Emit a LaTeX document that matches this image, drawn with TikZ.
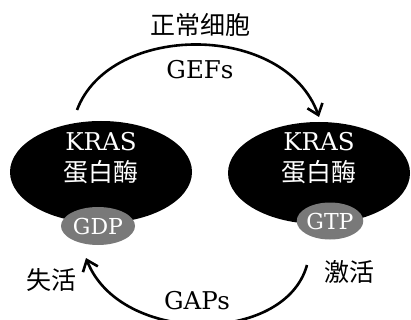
\documentclass[tikz,border=0pt]{standalone}
\usepackage{fontspec}
\setmainfont{DejaVu Serif}
\newfontfamily\cjk{Noto Sans CJK SC}
\usetikzlibrary{shapes.geometric,arrows.meta}
\tikzset{
  prot/.style={ellipse,fill=black,minimum width=182pt,minimum height=102pt,inner sep=0pt},
  nuc/.style={ellipse,fill=gray!95!black,text=white,inner sep=0pt,font=\fontsize{22}{24}\selectfont},
  lbl/.style={inner sep=0pt,font=\fontsize{24.5}{26}\selectfont},
  clbl/.style={inner sep=0pt,font=\fontsize{25}{27}\selectfont\cjk},
  wlbl/.style={lbl,text=white},
  wclbl/.style={clbl,text=white},
  cyc/.style={line width=2.6pt,-{Straight Barb[length=10pt,width=16pt,line width=2.6pt]}}
}
\begin{document}
\begin{tikzpicture}[x=1pt,y=-1pt]
\useasboundingbox (0,0) rectangle (411,320);
\node[prot] (L) at (101,172) {};
\node[prot] (R) at (319,173) {};
\node[wlbl] (Lk) at (101,142) {KRAS};
\node[wclbl] (Lp) at (101,172) {蛋白酶};
\node[wlbl] (Rk) at (319,142) {KRAS};
\node[wclbl] (Rp) at (319,172) {蛋白酶};
\node[nuc,minimum width=74pt,minimum height=38pt] (gdp) at (98,226) {GDP};
\node[nuc,minimum width=62pt,minimum height=37pt] (gtp) at (330,221) {GTP};
\node[clbl] (top) at (200,25) {正常细胞};
\node[lbl] (gef) at (200,70) {GEFs};
\node[clbl] (off) at (51,280) {失活};
\node[clbl] (on) at (349,272) {激活};
\node[lbl] (gap) at (197,301) {GAPs};
\coordinate (a1) at (77,110);
\coordinate (a2) at (319,117);
\coordinate (b1) at (307,265);
\coordinate (b2) at (86,258);
\draw[cyc] (a1) .. controls (110,22) and (285,22) .. (a2);
\draw[cyc] (b1) .. controls (285,345) and (120,345) .. (b2);
\end{tikzpicture}
\end{document}
